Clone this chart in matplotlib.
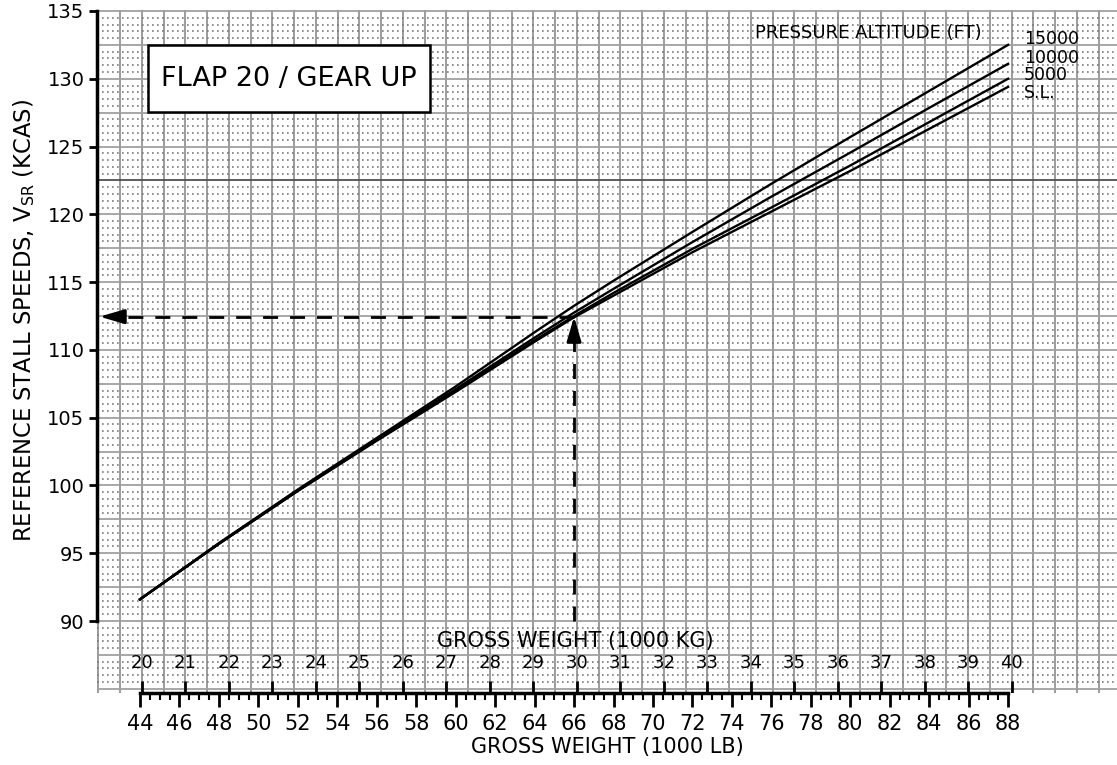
import numpy as np
import matplotlib
matplotlib.use("Agg")
import matplotlib.pyplot as plt
from matplotlib.patches import Rectangle

plt.rcParams['font.family'] = ['DejaVu Sans']
plt.rcParams['mathtext.default'] = 'regular'

LB_PER_KG = 2.20462

# gross weight (1000 lb) and reference stall speed (KCAS) per pressure altitude
weight_lb = [44, 48, 52, 56, 60, 64, 66, 68, 72, 76, 80, 84, 88]
vsr_sl = [91.6, 95.7, 99.6, 103.3, 106.9, 110.6, 112.4, 114.0, 117.2, 120.2, 123.2, 126.3, 129.4]
vsr_5000 = [91.6, 95.7, 99.6, 103.35, 107.0, 110.7, 112.5, 114.2, 117.45, 120.5, 123.6, 126.8, 130.0]
vsr_10000 = [91.6, 95.7, 99.65, 103.4, 107.1, 110.9, 112.75, 114.5, 117.95, 121.3, 124.55, 127.85, 131.1]
vsr_15000 = [91.6, 95.75, 99.7, 103.5, 107.3, 111.3, 113.25, 115.1, 118.7, 122.25, 125.7, 129.1, 132.5]
alt_labels = ["15000", "10000", "5000", "S.L."]
alt_label_y = [132.95, 131.55, 130.25, 128.95]

kg_ticks = list(range(20, 41))
lb_ticks = list(range(44, 89, 2))

# example read-off: 66 000 lb -> 112.45 kt
ex_weight = 66.0
ex_speed = 112.45

fig = plt.figure(figsize=(11.17, 7.65), dpi=100)
ax = fig.add_axes([97 / 1117, 72 / 765, 1020 / 1117, 683 / 765])
ax.set_xlim(41.82, 93.52)
ax.set_ylim(84.69, 135.07)

# chart paper
for kg in np.arange(19.0, 42.6, 0.5):
    ax.axvline(kg * LB_PER_KG, color='#9c9c9c', lw=1.4, zorder=0)
for v in np.arange(85.0, 135.1, 2.5):
    c = '#505050' if v == 122.5 else '#a0a0a0'
    ax.axhline(v, color=c, lw=1.3, zorder=0)
for v in np.arange(85.0, 135.1, 0.5):
    if abs(v / 2.5 - round(v / 2.5)) > 1e-6:
        ax.axhline(v, color='#7a7a7a', lw=1.2, ls=(0, (1, 2.0)), zorder=0)

# curves
for vals in (vsr_sl, vsr_5000, vsr_10000, vsr_15000):
    ax.plot(weight_lb, vals, color='black', lw=1.7, zorder=3)

for lab, y in zip(alt_labels, alt_label_y):
    ax.text(88.8, y, lab, fontsize=12.5, ha='left', va='center', zorder=4)
ax.text(80.9, 133.35, "PRESSURE ALTITUDE (FT)", fontsize=13,
        ha='center', va='center', zorder=4)

# box title
ax.add_patch(Rectangle((44.41, 127.56), 58.70 - 44.41, 132.51 - 127.56,
                       facecolor='white', edgecolor='black', lw=1.8, zorder=5))
ax.text(51.55, 129.95, "FLAP 20 / GEAR UP", fontsize=19.5, ha='center',
        va='center', zorder=6)

# example dashed lines with arrows
dash = (0, (5.4, 4.3))
ax.plot([ex_weight, ex_weight], [90.0, ex_speed - 1.3], color='black', lw=2,
        ls=dash, zorder=4)
ax.plot([ex_weight, 43.0], [ex_speed, ex_speed], color='black', lw=2,
        ls=dash, zorder=4)
ax.annotate("", xy=(ex_weight, ex_speed), xytext=(ex_weight, ex_speed - 1.6),
            arrowprops=dict(arrowstyle='-|>,head_length=0.75,head_width=0.22',
                            mutation_scale=20, color='black', lw=2,
                            shrinkA=0, shrinkB=0), zorder=5)
ax.annotate("", xy=(41.95, ex_speed), xytext=(43.1, ex_speed),
            arrowprops=dict(arrowstyle='-|>,head_length=0.75,head_width=0.22',
                            mutation_scale=20, color='black', lw=2,
                            shrinkA=0, shrinkB=0), zorder=5)

# axes
for s in ('top', 'right'):
    ax.spines[s].set_visible(False)
ax.spines['left'].set_bounds(90, 135)
ax.spines['left'].set_linewidth(2.5)
ax.spines['bottom'].set_bounds(44, 88)
ax.spines['bottom'].set_linewidth(2.5)

ax.set_yticks(range(90, 136, 5))
ax.tick_params(axis='y', direction='out', length=6, width=2, labelsize=14, pad=3)
ax.set_xticks(lb_ticks)
ax.set_xticks(np.arange(44, 88.1, 0.5), minor=True)
ax.tick_params(axis='x', which='major', direction='out', length=10, width=2,
               labelsize=15, pad=5)
ax.tick_params(axis='x', which='minor', direction='out', length=5, width=1.5)
ax.set_xlabel("GROSS WEIGHT (1000 LB)", fontsize=15, labelpad=2)
ax.set_ylabel(r"REFERENCE STALL SPEEDS, V$_{SR}$ (KCAS)", fontsize=16.3)
ax.yaxis.set_label_coords(-0.059, 0.545)

# kg scale
kg_lb = [k * LB_PER_KG for k in kg_ticks]
ax.vlines(kg_lb, 84.69, 85.55, color='black', lw=2, zorder=4)
for k, x in zip(kg_ticks, kg_lb):
    ax.text(x, 86.9, str(k), fontsize=13, ha='center', va='center', zorder=4)
ax.text(66.05, 88.5, "GROSS WEIGHT (1000 KG)", fontsize=15, ha='center',
        va='center', zorder=4)

fig.savefig("out.png", dpi=100)
